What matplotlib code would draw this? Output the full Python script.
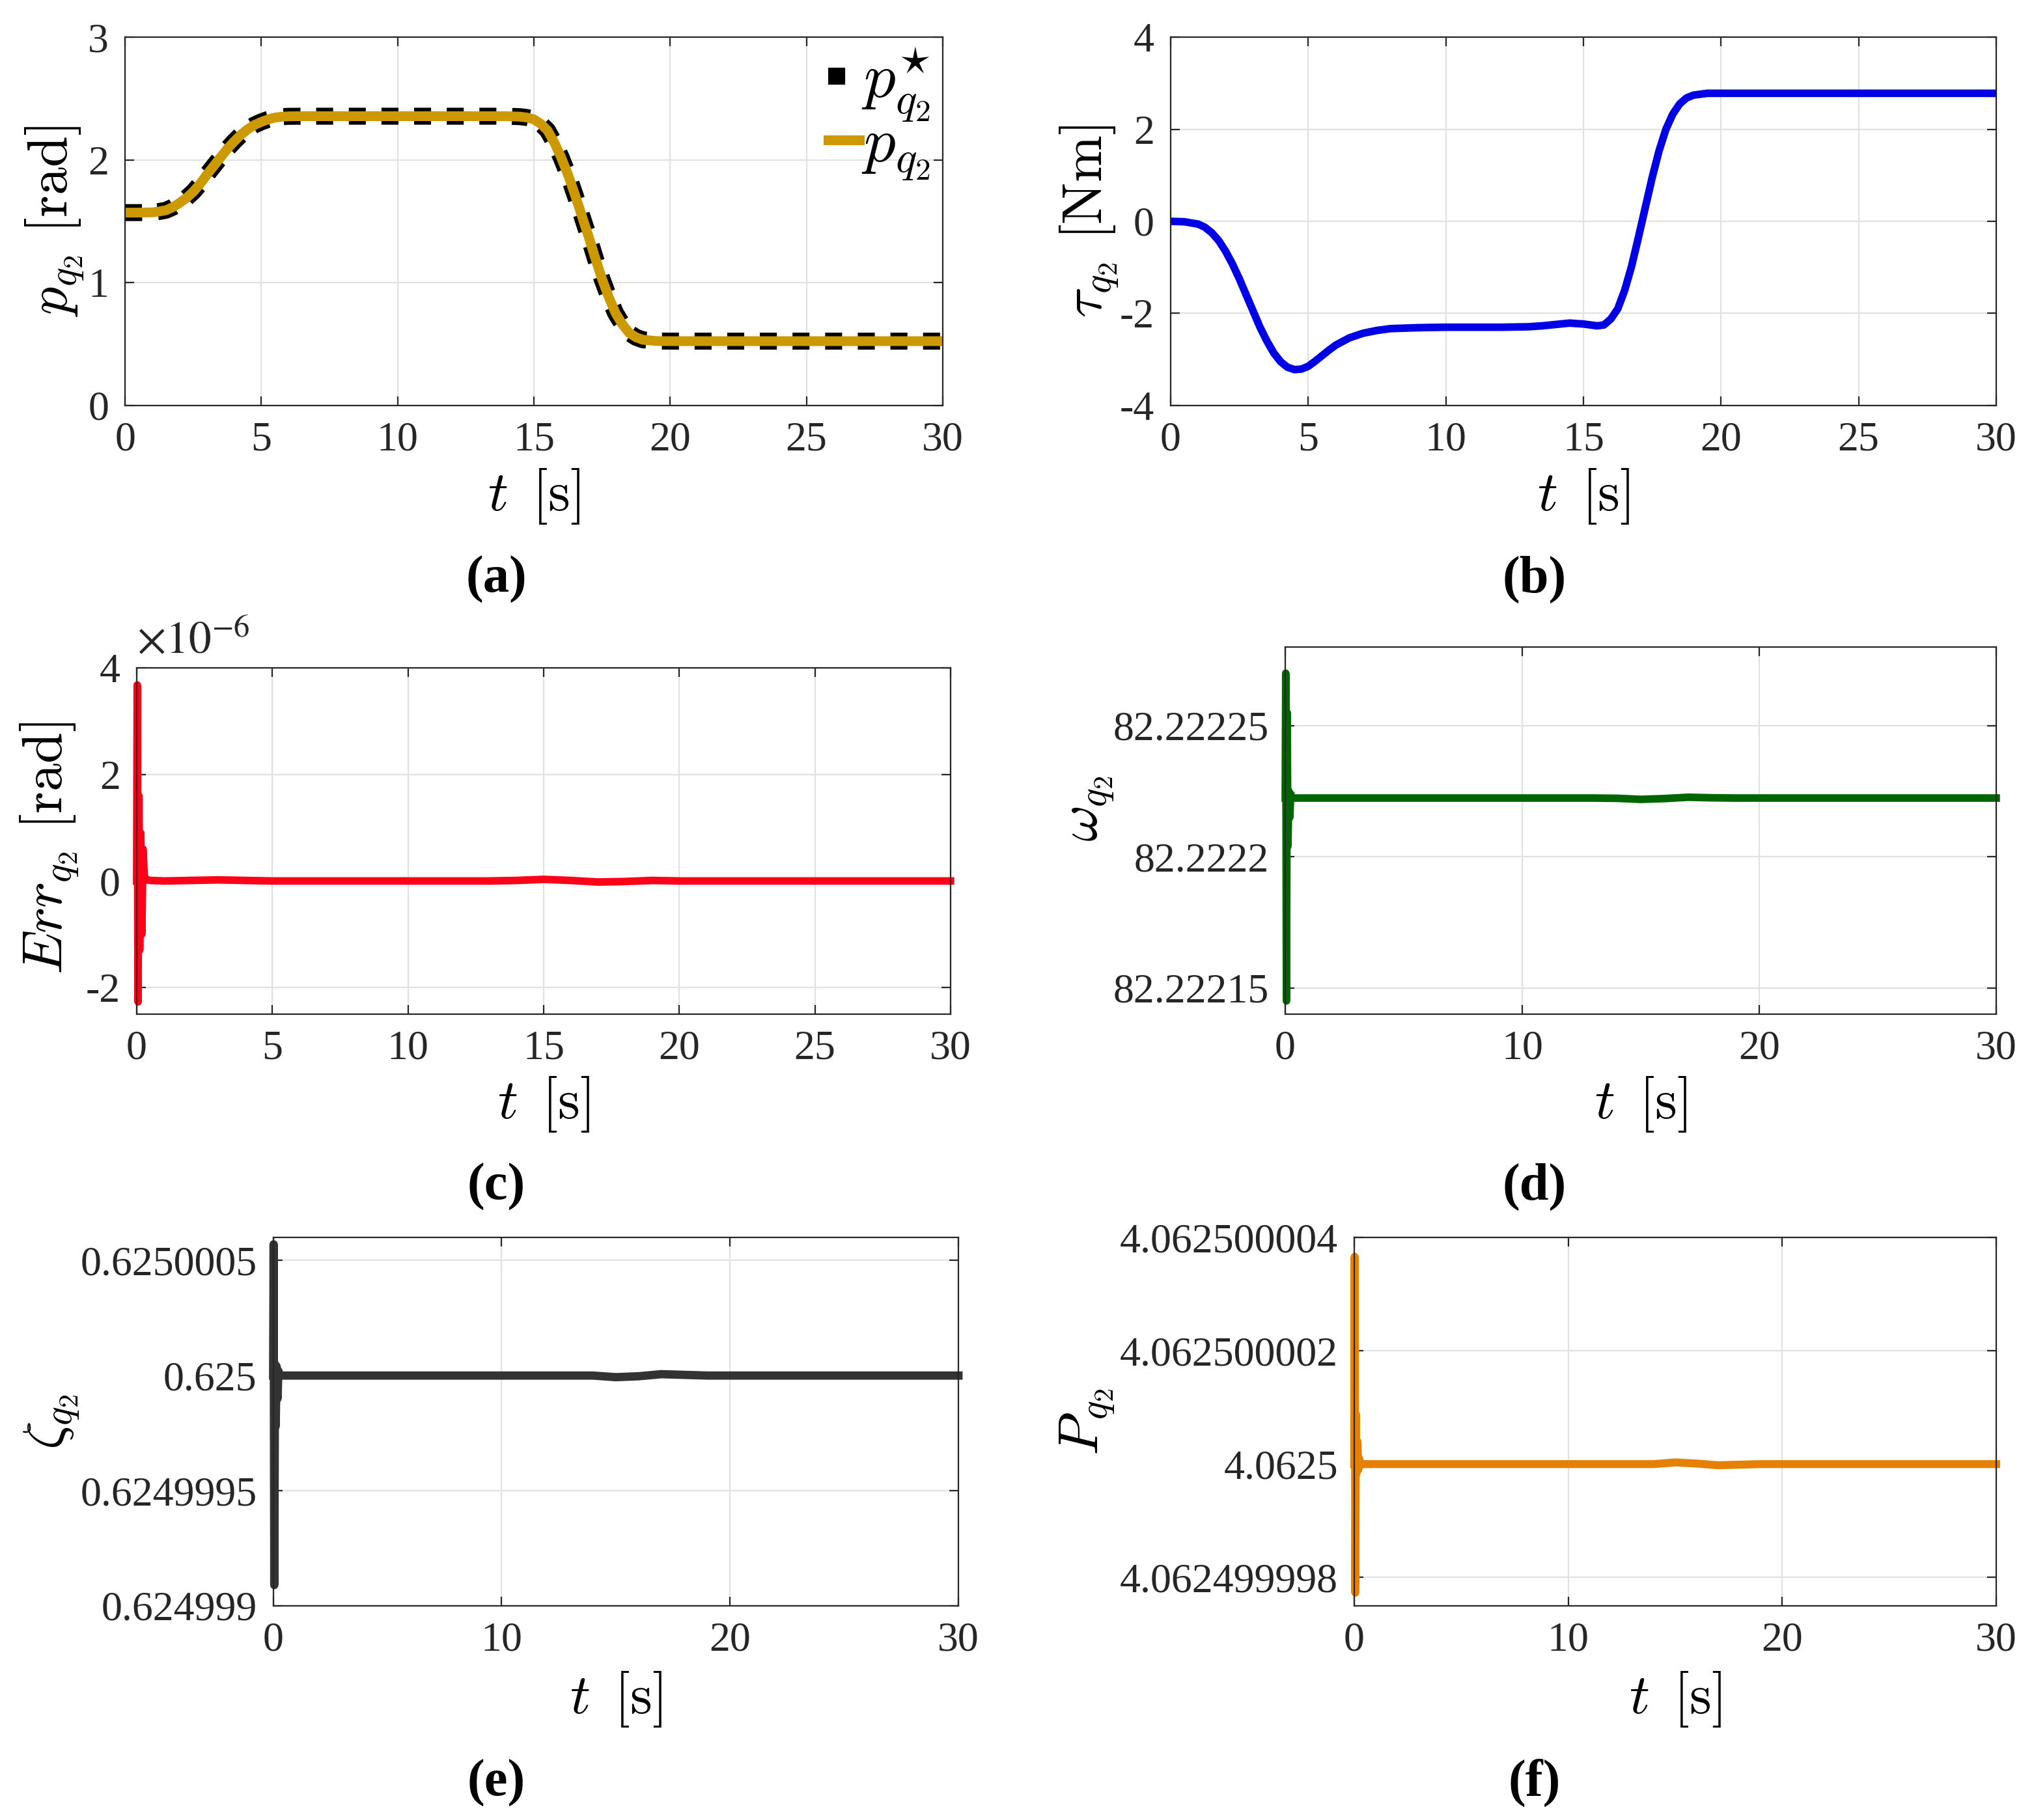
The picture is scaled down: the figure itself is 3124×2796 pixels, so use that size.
import numpy as np
import matplotlib
matplotlib.use('Agg')
import matplotlib.pyplot as plt

# ---------------- data ----------------
# (a) joint position
t_a = [0, 0.5, 1, 1.25, 1.5, 1.75, 2, 2.25, 2.5, 2.75, 3, 3.25, 3.5, 3.75, 4, 4.25,
       4.5, 4.75, 5, 5.25, 5.5, 5.75, 6, 6.5, 7, 8, 10, 12, 14, 14.5, 14.75, 15,
       15.25, 15.5, 15.75, 16, 16.25, 16.5, 16.75, 17, 17.25, 17.5, 17.75, 18,
       18.25, 18.5, 18.75, 19, 19.5, 20, 22, 25, 30]
p_ref = [1.571, 1.571, 1.573, 1.58, 1.59, 1.615, 1.65, 1.69, 1.74, 1.805, 1.88, 1.95,
         2.02, 2.09, 2.15, 2.205, 2.25, 2.285, 2.31, 2.33, 2.345, 2.352, 2.355,
         2.356, 2.356, 2.356, 2.356, 2.356, 2.356, 2.352, 2.345, 2.33, 2.295, 2.24,
         2.14, 2.02, 1.88, 1.72, 1.55, 1.38, 1.2, 1.03, 0.88, 0.75, 0.66, 0.59,
         0.555, 0.535, 0.525, 0.524, 0.524, 0.524, 0.524]
p_act = [1.571, 1.571, 1.573, 1.58, 1.59, 1.615, 1.65, 1.69, 1.74, 1.805, 1.88, 1.95,
         2.02, 2.09, 2.15, 2.205, 2.25, 2.285, 2.31, 2.33, 2.345, 2.352, 2.355,
         2.356, 2.356, 2.356, 2.356, 2.356, 2.356, 2.352, 2.345, 2.33, 2.295, 2.24,
         2.14, 2.02, 1.88, 1.72, 1.55, 1.38, 1.2, 1.03, 0.88, 0.75, 0.66, 0.59,
         0.555, 0.535, 0.525, 0.524, 0.524, 0.524, 0.524]

# (b) torque
t_b = [0, 0.5, 1, 1.25, 1.5, 1.75, 2, 2.25, 2.5, 2.75, 3, 3.25, 3.5, 3.75, 4, 4.25,
       4.5, 4.75, 5, 5.25, 5.5, 5.75, 6, 6.5, 7, 7.5, 8, 9, 10, 11, 12, 13, 13.5, 14,
       14.5, 15, 15.5, 15.75, 16, 16.25, 16.5, 16.75, 17, 17.25, 17.5, 17.75, 18,
       18.25, 18.5, 18.75, 19, 19.5, 20, 25, 30]
tau = [0, -0.01, -0.06, -0.13, -0.25, -0.42, -0.65, -0.93, -1.25, -1.6, -1.95, -2.3,
       -2.6, -2.86, -3.05, -3.17, -3.22, -3.21, -3.15, -3.04, -2.92, -2.8, -2.69,
       -2.53, -2.43, -2.37, -2.33, -2.31, -2.3, -2.3, -2.3, -2.29, -2.27, -2.24,
       -2.21, -2.23, -2.27, -2.25, -2.12, -1.9, -1.5, -0.98, -0.35, 0.3, 0.95, 1.53,
       2.0, 2.33, 2.55, 2.68, 2.74, 2.78, 2.78, 2.78, 2.78]

# (c)-(f) shared time base
t_s = [0, 0.02, 0.05, 0.08, 0.11, 0.15, 0.19, 0.23, 0.28, 0.35, 0.5, 1, 2, 3, 4, 5,
       6, 8, 10, 12, 13, 14, 15, 16, 17, 18, 19, 20, 22, 25, 30]
err = [0, 3.68, -2.27, 1.6, -1.3, 0.9, -1.0, 0.6, 0.1, 0.02, 0.01, 0.0, 0.01, 0.02,
       0.01, 0.0, 0.0, 0.0, 0.0, 0.0, 0.0, 0.01, 0.03, 0.01, -0.02, -0.01, 0.01, 0.0,
       0.0, 0.0, 0.0]
omega = [82.2222224, 82.2222700, 82.2221450, 82.2222550, 82.2222040, 82.2222250,
         82.2222150, 82.2222240, 82.2222226, 82.2222224, 82.2222224, 82.2222224,
         82.2222224, 82.2222224, 82.2222224, 82.2222224, 82.2222224, 82.2222224,
         82.2222224, 82.2222224, 82.2222224, 82.2222223, 82.2222219, 82.2222222,
         82.2222227, 82.2222225, 82.2222224, 82.2222224, 82.2222224, 82.2222224,
         82.2222224]
zeta = [0.6250000, 0.62500057, 0.62499909, 0.62500005, 0.62499978, 0.62500004,
        0.62499990, 0.62500002, 0.6250000, 0.6250000, 0.6250000, 0.6250000,
        0.6250000, 0.6250000, 0.6250000, 0.6250000, 0.6250000, 0.6250000,
        0.6250000, 0.6250000, 0.6250000, 0.62500000, 0.624999993, 0.624999997,
        0.625000006, 0.625000003, 0.6250000, 0.6250000, 0.6250000, 0.6250000,
        0.6250000]
power = [4.0625, 4.06250000366, 4.06249999773, 4.06250000088, 4.06249999984,
         4.06250000040, 4.06249999990, 4.06250000010, 4.0625, 4.0625, 4.0625,
         4.0625, 4.0625, 4.0625, 4.0625, 4.0625, 4.0625, 4.0625, 4.0625, 4.0625,
         4.0625, 4.0625, 4.06250000003, 4.06250000001, 4.06249999998,
         4.06249999999, 4.0625, 4.0625, 4.0625, 4.0625, 4.0625]

# tick labels
a_yticks = [0, 1, 2, 3]
b_yticks = [-4, -2, 0, 2, 4]
c_yticks = [-2, 0, 2, 4]
d_yticks = [82.22215, 82.2222, 82.22225]
d_ylabels = ['82.22215', '82.2222', '82.22225']
e_yticks = [0.624999, 0.6249995, 0.625, 0.6250005]
e_ylabels = ['0.624999', '0.6249995', '0.625', '0.6250005']
f_yticks = [4.062499998, 4.0625, 4.062500002, 4.062500004]
f_ylabels = ['4.062499998', '4.0625', '4.062500002', '4.062500004']
captions = ['(a)', '(b)', '(c)', '(d)', '(e)', '(f)']

# ---------------- style ----------------
plt.rcParams['font.family'] = ['Liberation Serif', 'DejaVu Serif']
plt.rcParams['mathtext.fontset'] = 'cm'
plt.rcParams['axes.unicode_minus'] = False

DARK = '#262626'
GRID = '#e1e1e1'
TICK_FS = 23
LAB_FS = 31

fig = plt.figure(figsize=(15.62, 13.98), dpi=200)


def make_ax(l, r, b, t):
    ax = fig.add_axes([l, b, r - l, t - b])
    ax.tick_params(direction='in', length=5, width=0.8, top=True, right=True,
                   labelsize=TICK_FS, colors=DARK, pad=9)
    for s in ax.spines.values():
        s.set_linewidth(0.8)
        s.set_color(DARK)
    ax.grid(True, color=GRID, linewidth=0.8)
    ax.set_axisbelow(True)
    return ax


def labels(ax, ylab, yx, xy, yy=0.5):
    ax.set_xlabel(r'$t\ \,[\mathrm{s}]$', fontsize=LAB_FS)
    ax.xaxis.set_label_coords(0.5, xy)
    ax.xaxis.label.set_verticalalignment('center')
    ax.set_ylabel(ylab, fontsize=LAB_FS)
    ax.yaxis.set_label_coords(yx, yy)
    ax.yaxis.label.set_verticalalignment('center')


# (a)
axa = make_ax(0.0615, 0.4635, 0.7772, 0.9796)
axa.plot(t_a, p_ref, color='black', lw=9.4, dashes=(1.0, 0.92),
         solid_capstyle='butt', dash_capstyle='butt', label=r'$p^{\star}_{q_2}$')
axa.plot(t_a, p_act, color='#CC9900', lw=5.4, label=r'$p_{q_2}$')
axa.set_xlim(0, 30)
axa.set_ylim(0, 3)
axa.set_xticks(range(0, 31, 5))
axa.set_yticks(a_yticks)
labels(axa, r'$p_{q_2}\ [\mathrm{rad}]$', -0.086, -0.247)
axa.legend(loc='upper right', bbox_to_anchor=(0.985, 0.975), frameon=False,
           fontsize=35, handlelength=0.5, handletextpad=0.03, labelspacing=-0.1,
           borderaxespad=0.0, borderpad=0.0)

# (b)
axb = make_ax(0.5755, 0.9814, 0.7772, 0.9796)
axb.plot(t_b, tau, color='#0000E6', lw=4.2)
axb.set_xlim(0, 30)
axb.set_ylim(-4, 4)
axb.set_xticks(range(0, 31, 5))
axb.set_yticks(b_yticks)
labels(axb, r'$\tau_{q_2}\ [\mathrm{Nm}]$', -0.098, -0.247)

# (c)
axc = make_ax(0.0672, 0.4673, 0.4428, 0.6330)
axc.plot(t_s, err, color='#FF0019', lw=4.2, clip_on=False)
axc.set_xlim(0, 30)
axc.set_ylim(-2.5, 4)
axc.set_xticks(range(0, 31, 5))
axc.set_yticks(c_yticks)
labels(axc, r'$Err_{q_2}\ [\mathrm{rad}]$', -0.107, -0.261, 0.48)
axc.text(0.0, 1.015, r'$\times 10^{\mathrm{-}6}$',
         transform=axc.transAxes, fontsize=25, color=DARK, ha='left',
         va='bottom', math_fontfamily='stix')

# (d)
axd = make_ax(0.6319, 0.9814, 0.4428, 0.6445)
axd.plot(t_s, omega, color='#006400', lw=4.2, clip_on=False)
axd.set_xlim(0, 30)
axd.set_ylim(82.22214, 82.22228)
axd.set_xticks(range(0, 31, 10))
axd.set_yticks(d_yticks)
axd.set_yticklabels(d_ylabels)
labels(axd, r'$\omega_{q_2}$', -0.275, -0.246, 0.56)

# (e)
axe = make_ax(0.1343, 0.4712, 0.1177, 0.3201)
axe.plot(t_s, zeta, color='#333333', lw=4.6, clip_on=False)
axe.set_xlim(0, 30)
axe.set_ylim(0.624999, 0.6250006)
axe.set_xticks(range(0, 31, 10))
axe.set_yticks(e_yticks)
axe.set_yticklabels(e_ylabels)
labels(axe, r'$\zeta_{q_2}$', -0.323, -0.253)

# (f)
axf = make_ax(0.6658, 0.9814, 0.1177, 0.3201)
axf.plot(t_s, power, color='#E68000', lw=4.4, clip_on=False)
axf.set_xlim(0, 30)
axf.set_ylim(4.0624999975, 4.062500004)
axf.set_xticks(range(0, 31, 10))
axf.set_yticks(f_yticks)
axf.set_yticklabels(f_ylabels)
labels(axf, r'$P_{q_2}$', -0.416, -0.253)

# captions
cap_pos = [(0.244, 0.6816), (0.7545, 0.6816), (0.244, 0.348), (0.7545, 0.348),
           (0.244, 0.0203), (0.7545, 0.0203)]
for txt, (x, y) in zip(captions, cap_pos):
    fig.text(x, y, txt, fontsize=29, fontweight='bold', ha='center', va='center',
             color='black')

fig.savefig('out.png', dpi=200, facecolor='white')
